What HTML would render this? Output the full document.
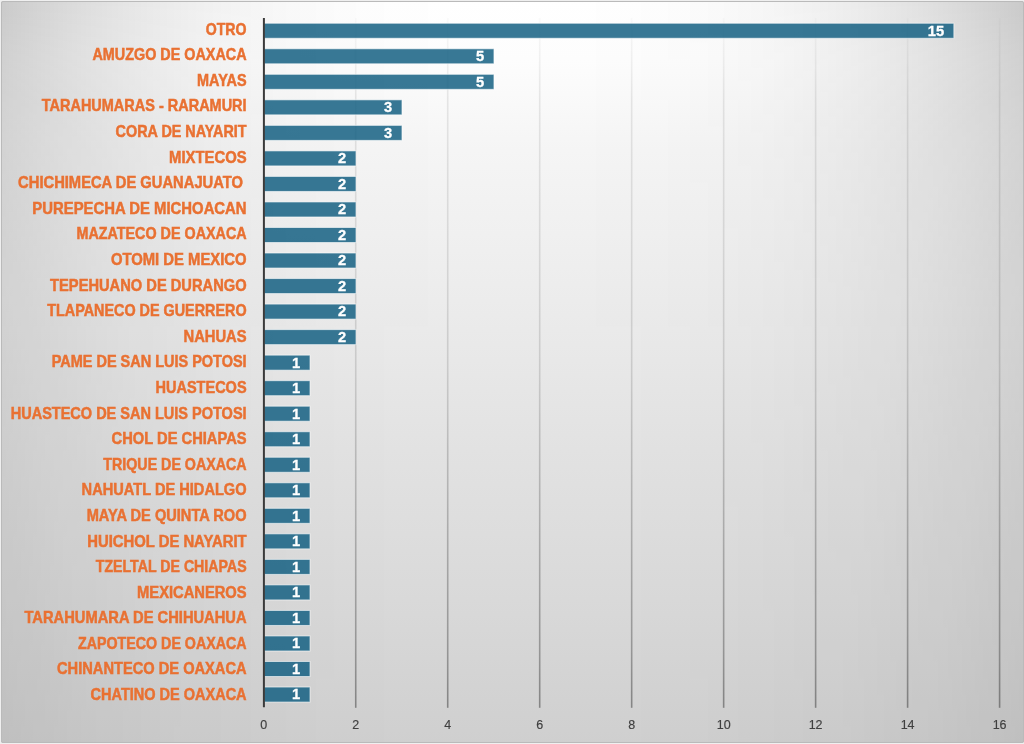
<!DOCTYPE html>
<html><head><meta charset="utf-8"><style>
html,body{margin:0;padding:0;width:1024px;height:744px;overflow:hidden;background:#efefef;}
svg{display:block;will-change:transform}
</style></head><body>
<svg width="1024" height="744" viewBox="0 0 1024 744">
<defs>
<linearGradient id="bv" gradientUnits="userSpaceOnUse" x1="0" y1="0" x2="0" y2="744"><stop offset="0.0000" stop-color="#ffffff"/><stop offset="0.0806" stop-color="#fdfdfd"/><stop offset="0.2016" stop-color="#f5f5f5"/><stop offset="0.4032" stop-color="#ececec"/><stop offset="0.6048" stop-color="#e2e2e2"/><stop offset="0.8065" stop-color="#d9d9d9"/><stop offset="1.0000" stop-color="#cfcfcf"/></linearGradient>
<linearGradient id="bh" gradientUnits="userSpaceOnUse" x1="0" y1="0" x2="1024" y2="0"><stop offset="0.0000" stop-color="#000" stop-opacity="0.2117"/><stop offset="0.0156" stop-color="#000" stop-opacity="0.1950"/><stop offset="0.0312" stop-color="#000" stop-opacity="0.1791"/><stop offset="0.0469" stop-color="#000" stop-opacity="0.1641"/><stop offset="0.0625" stop-color="#000" stop-opacity="0.1499"/><stop offset="0.0781" stop-color="#000" stop-opacity="0.1364"/><stop offset="0.0938" stop-color="#000" stop-opacity="0.1237"/><stop offset="0.1094" stop-color="#000" stop-opacity="0.1118"/><stop offset="0.1250" stop-color="#000" stop-opacity="0.1006"/><stop offset="0.1406" stop-color="#000" stop-opacity="0.0901"/><stop offset="0.1562" stop-color="#000" stop-opacity="0.0803"/><stop offset="0.1719" stop-color="#000" stop-opacity="0.0712"/><stop offset="0.1875" stop-color="#000" stop-opacity="0.0628"/><stop offset="0.2031" stop-color="#000" stop-opacity="0.0550"/><stop offset="0.2188" stop-color="#000" stop-opacity="0.0478"/><stop offset="0.2344" stop-color="#000" stop-opacity="0.0413"/><stop offset="0.2500" stop-color="#000" stop-opacity="0.0353"/><stop offset="0.2656" stop-color="#000" stop-opacity="0.0298"/><stop offset="0.2812" stop-color="#000" stop-opacity="0.0250"/><stop offset="0.2969" stop-color="#000" stop-opacity="0.0206"/><stop offset="0.3125" stop-color="#000" stop-opacity="0.0168"/><stop offset="0.3281" stop-color="#000" stop-opacity="0.0134"/><stop offset="0.3438" stop-color="#000" stop-opacity="0.0105"/><stop offset="0.3594" stop-color="#000" stop-opacity="0.0080"/><stop offset="0.3750" stop-color="#000" stop-opacity="0.0059"/><stop offset="0.3906" stop-color="#000" stop-opacity="0.0042"/><stop offset="0.4062" stop-color="#000" stop-opacity="0.0028"/><stop offset="0.4219" stop-color="#000" stop-opacity="0.0017"/><stop offset="0.4375" stop-color="#000" stop-opacity="0.0010"/><stop offset="0.4531" stop-color="#000" stop-opacity="0.0005"/><stop offset="0.4688" stop-color="#000" stop-opacity="0.0002"/><stop offset="0.4844" stop-color="#000" stop-opacity="0.0000"/><stop offset="0.5000" stop-color="#000" stop-opacity="0.0000"/><stop offset="0.5156" stop-color="#000" stop-opacity="0.0000"/><stop offset="0.5312" stop-color="#000" stop-opacity="0.0002"/><stop offset="0.5469" stop-color="#000" stop-opacity="0.0005"/><stop offset="0.5625" stop-color="#000" stop-opacity="0.0010"/><stop offset="0.5781" stop-color="#000" stop-opacity="0.0017"/><stop offset="0.5938" stop-color="#000" stop-opacity="0.0028"/><stop offset="0.6094" stop-color="#000" stop-opacity="0.0041"/><stop offset="0.6250" stop-color="#000" stop-opacity="0.0058"/><stop offset="0.6406" stop-color="#000" stop-opacity="0.0079"/><stop offset="0.6562" stop-color="#000" stop-opacity="0.0104"/><stop offset="0.6719" stop-color="#000" stop-opacity="0.0133"/><stop offset="0.6875" stop-color="#000" stop-opacity="0.0167"/><stop offset="0.7031" stop-color="#000" stop-opacity="0.0205"/><stop offset="0.7188" stop-color="#000" stop-opacity="0.0248"/><stop offset="0.7344" stop-color="#000" stop-opacity="0.0297"/><stop offset="0.7500" stop-color="#000" stop-opacity="0.0351"/><stop offset="0.7656" stop-color="#000" stop-opacity="0.0411"/><stop offset="0.7812" stop-color="#000" stop-opacity="0.0476"/><stop offset="0.7969" stop-color="#000" stop-opacity="0.0548"/><stop offset="0.8125" stop-color="#000" stop-opacity="0.0626"/><stop offset="0.8281" stop-color="#000" stop-opacity="0.0710"/><stop offset="0.8438" stop-color="#000" stop-opacity="0.0801"/><stop offset="0.8594" stop-color="#000" stop-opacity="0.0898"/><stop offset="0.8750" stop-color="#000" stop-opacity="0.1003"/><stop offset="0.8906" stop-color="#000" stop-opacity="0.1115"/><stop offset="0.9062" stop-color="#000" stop-opacity="0.1234"/><stop offset="0.9219" stop-color="#000" stop-opacity="0.1361"/><stop offset="0.9375" stop-color="#000" stop-opacity="0.1495"/><stop offset="0.9531" stop-color="#000" stop-opacity="0.1637"/><stop offset="0.9688" stop-color="#000" stop-opacity="0.1787"/><stop offset="0.9844" stop-color="#000" stop-opacity="0.1946"/><stop offset="1.0000" stop-color="#000" stop-opacity="0.2112"/></linearGradient>
<linearGradient id="mv" gradientUnits="userSpaceOnUse" x1="0" y1="0" x2="0" y2="744"><stop offset="0.0000" stop-color="#fff" stop-opacity="1.0000"/><stop offset="0.0323" stop-color="#fff" stop-opacity="0.9307"/><stop offset="0.0645" stop-color="#fff" stop-opacity="0.8609"/><stop offset="0.0968" stop-color="#fff" stop-opacity="0.8037"/><stop offset="0.1290" stop-color="#fff" stop-opacity="0.7589"/><stop offset="0.1613" stop-color="#fff" stop-opacity="0.7133"/><stop offset="0.1935" stop-color="#fff" stop-opacity="0.6669"/><stop offset="0.2258" stop-color="#fff" stop-opacity="0.6389"/><stop offset="0.2581" stop-color="#fff" stop-opacity="0.6169"/><stop offset="0.2903" stop-color="#fff" stop-opacity="0.5946"/><stop offset="0.3226" stop-color="#fff" stop-opacity="0.5720"/><stop offset="0.3548" stop-color="#fff" stop-opacity="0.5492"/><stop offset="0.3871" stop-color="#fff" stop-opacity="0.5261"/><stop offset="0.4194" stop-color="#fff" stop-opacity="0.5082"/><stop offset="0.4516" stop-color="#fff" stop-opacity="0.4954"/><stop offset="0.4839" stop-color="#fff" stop-opacity="0.4824"/><stop offset="0.5161" stop-color="#fff" stop-opacity="0.4693"/><stop offset="0.5484" stop-color="#fff" stop-opacity="0.4560"/><stop offset="0.5806" stop-color="#fff" stop-opacity="0.4425"/><stop offset="0.6129" stop-color="#fff" stop-opacity="0.4308"/><stop offset="0.6452" stop-color="#fff" stop-opacity="0.4246"/><stop offset="0.6774" stop-color="#fff" stop-opacity="0.4184"/><stop offset="0.7097" stop-color="#fff" stop-opacity="0.4121"/><stop offset="0.7419" stop-color="#fff" stop-opacity="0.4058"/><stop offset="0.7742" stop-color="#fff" stop-opacity="0.3993"/><stop offset="0.8065" stop-color="#fff" stop-opacity="0.3928"/><stop offset="0.8387" stop-color="#fff" stop-opacity="0.3873"/><stop offset="0.8710" stop-color="#fff" stop-opacity="0.3817"/><stop offset="0.9032" stop-color="#fff" stop-opacity="0.3761"/><stop offset="0.9355" stop-color="#fff" stop-opacity="0.3703"/><stop offset="0.9677" stop-color="#fff" stop-opacity="0.3645"/><stop offset="1.0000" stop-color="#fff" stop-opacity="0.3586"/></linearGradient>
<mask id="mk" maskUnits="userSpaceOnUse" x="0" y="0" width="1024" height="744"><rect width="1024" height="744" fill="url(#mv)"/></mask>
<linearGradient id="gl" gradientUnits="userSpaceOnUse" x1="0" y1="18" x2="0" y2="708"><stop offset="0.0000" stop-color="#000" stop-opacity="0.020"/><stop offset="0.1188" stop-color="#000" stop-opacity="0.085"/><stop offset="0.3362" stop-color="#000" stop-opacity="0.105"/><stop offset="0.5101" stop-color="#000" stop-opacity="0.130"/><stop offset="0.6986" stop-color="#000" stop-opacity="0.210"/><stop offset="0.9159" stop-color="#000" stop-opacity="0.300"/><stop offset="1.0000" stop-color="#000" stop-opacity="0.370"/></linearGradient>
</defs>
<rect x="0" y="0" width="1024" height="744" fill="#efefef"/>
<rect x="1" y="1" width="1023" height="742" rx="2" fill="url(#bv)"/>
<rect x="1" y="1" width="1023" height="742" rx="2" fill="url(#bh)" mask="url(#mk)"/>
<rect x="1.5" y="1.5" width="1022" height="741" rx="1.5" fill="none" stroke="#bababa" stroke-width="1"/>

<rect x="354.93" y="18.0" width="1.6" height="689.8" fill="url(#gl)"/>
<rect x="446.91" y="18.0" width="1.6" height="689.8" fill="url(#gl)"/>
<rect x="538.89" y="18.0" width="1.6" height="689.8" fill="url(#gl)"/>
<rect x="630.87" y="18.0" width="1.6" height="689.8" fill="url(#gl)"/>
<rect x="722.85" y="18.0" width="1.6" height="689.8" fill="url(#gl)"/>
<rect x="814.83" y="18.0" width="1.6" height="689.8" fill="url(#gl)"/>
<rect x="906.81" y="18.0" width="1.6" height="689.8" fill="url(#gl)"/>
<rect x="998.79" y="18.0" width="1.6" height="689.8" fill="url(#gl)"/>
<rect x="263.9" y="23.26" width="689.95" height="15.0" fill="#156082" fill-opacity="0.85" stroke="#fff" stroke-opacity="0.6" stroke-width="1"/>
<rect x="263.9" y="48.79" width="230.05" height="15.0" fill="#156082" fill-opacity="0.85" stroke="#fff" stroke-opacity="0.6" stroke-width="1"/>
<rect x="263.9" y="74.32" width="230.05" height="15.0" fill="#156082" fill-opacity="0.85" stroke="#fff" stroke-opacity="0.6" stroke-width="1"/>
<rect x="263.9" y="99.85" width="138.07" height="15.0" fill="#156082" fill-opacity="0.85" stroke="#fff" stroke-opacity="0.6" stroke-width="1"/>
<rect x="263.9" y="125.38" width="138.07" height="15.0" fill="#156082" fill-opacity="0.85" stroke="#fff" stroke-opacity="0.6" stroke-width="1"/>
<rect x="263.9" y="150.91" width="92.08" height="15.0" fill="#156082" fill-opacity="0.85" stroke="#fff" stroke-opacity="0.6" stroke-width="1"/>
<rect x="263.9" y="176.44" width="92.08" height="15.0" fill="#156082" fill-opacity="0.85" stroke="#fff" stroke-opacity="0.6" stroke-width="1"/>
<rect x="263.9" y="201.97" width="92.08" height="15.0" fill="#156082" fill-opacity="0.85" stroke="#fff" stroke-opacity="0.6" stroke-width="1"/>
<rect x="263.9" y="227.50" width="92.08" height="15.0" fill="#156082" fill-opacity="0.85" stroke="#fff" stroke-opacity="0.6" stroke-width="1"/>
<rect x="263.9" y="253.03" width="92.08" height="15.0" fill="#156082" fill-opacity="0.85" stroke="#fff" stroke-opacity="0.6" stroke-width="1"/>
<rect x="263.9" y="278.56" width="92.08" height="15.0" fill="#156082" fill-opacity="0.85" stroke="#fff" stroke-opacity="0.6" stroke-width="1"/>
<rect x="263.9" y="304.09" width="92.08" height="15.0" fill="#156082" fill-opacity="0.85" stroke="#fff" stroke-opacity="0.6" stroke-width="1"/>
<rect x="263.9" y="329.62" width="92.08" height="15.0" fill="#156082" fill-opacity="0.85" stroke="#fff" stroke-opacity="0.6" stroke-width="1"/>
<rect x="263.9" y="355.15" width="46.09" height="15.0" fill="#156082" fill-opacity="0.85" stroke="#fff" stroke-opacity="0.6" stroke-width="1"/>
<rect x="263.9" y="380.68" width="46.09" height="15.0" fill="#156082" fill-opacity="0.85" stroke="#fff" stroke-opacity="0.6" stroke-width="1"/>
<rect x="263.9" y="406.21" width="46.09" height="15.0" fill="#156082" fill-opacity="0.85" stroke="#fff" stroke-opacity="0.6" stroke-width="1"/>
<rect x="263.9" y="431.74" width="46.09" height="15.0" fill="#156082" fill-opacity="0.85" stroke="#fff" stroke-opacity="0.6" stroke-width="1"/>
<rect x="263.9" y="457.27" width="46.09" height="15.0" fill="#156082" fill-opacity="0.85" stroke="#fff" stroke-opacity="0.6" stroke-width="1"/>
<rect x="263.9" y="482.80" width="46.09" height="15.0" fill="#156082" fill-opacity="0.85" stroke="#fff" stroke-opacity="0.6" stroke-width="1"/>
<rect x="263.9" y="508.33" width="46.09" height="15.0" fill="#156082" fill-opacity="0.85" stroke="#fff" stroke-opacity="0.6" stroke-width="1"/>
<rect x="263.9" y="533.86" width="46.09" height="15.0" fill="#156082" fill-opacity="0.85" stroke="#fff" stroke-opacity="0.6" stroke-width="1"/>
<rect x="263.9" y="559.39" width="46.09" height="15.0" fill="#156082" fill-opacity="0.85" stroke="#fff" stroke-opacity="0.6" stroke-width="1"/>
<rect x="263.9" y="584.92" width="46.09" height="15.0" fill="#156082" fill-opacity="0.85" stroke="#fff" stroke-opacity="0.6" stroke-width="1"/>
<rect x="263.9" y="610.45" width="46.09" height="15.0" fill="#156082" fill-opacity="0.85" stroke="#fff" stroke-opacity="0.6" stroke-width="1"/>
<rect x="263.9" y="635.98" width="46.09" height="15.0" fill="#156082" fill-opacity="0.85" stroke="#fff" stroke-opacity="0.6" stroke-width="1"/>
<rect x="263.9" y="661.51" width="46.09" height="15.0" fill="#156082" fill-opacity="0.85" stroke="#fff" stroke-opacity="0.6" stroke-width="1"/>
<rect x="263.9" y="687.04" width="46.09" height="15.0" fill="#156082" fill-opacity="0.85" stroke="#fff" stroke-opacity="0.6" stroke-width="1"/>
<line x1="263.9" y1="18.0" x2="263.9" y2="707.3" stroke="#3a3a3a" stroke-width="2"/>
<g font-family="Liberation Sans, sans-serif" font-weight="bold" font-size="16" fill="#E97132" text-anchor="end" stroke="#E97132" stroke-width="0.5">
<text transform="translate(246.60,34.70) scale(0.8848,1)">OTRO</text>
<text transform="translate(246.60,60.29) scale(0.8988,1)">AMUZGO DE OAXACA</text>
<text transform="translate(246.60,85.88) scale(0.9045,1)">MAYAS</text>
<text transform="translate(246.60,111.47) scale(0.9062,1)">TARAHUMARAS - RARAMURI</text>
<text transform="translate(246.60,137.06) scale(0.8989,1)">CORA DE NAYARIT</text>
<text transform="translate(246.60,162.65) scale(0.9289,1)">MIXTECOS</text>
<text transform="translate(243.00,188.24) scale(0.9218,1)">CHICHIMECA DE GUANAJUATO</text>
<text transform="translate(246.60,213.83) scale(0.9304,1)">PUREPECHA DE MICHOACAN</text>
<text transform="translate(246.60,239.42) scale(0.8961,1)">MAZATECO DE OAXACA</text>
<text transform="translate(246.60,265.01) scale(0.9278,1)">OTOMI DE MEXICO</text>
<text transform="translate(246.60,290.60) scale(0.9182,1)">TEPEHUANO DE DURANGO</text>
<text transform="translate(246.60,316.19) scale(0.8989,1)">TLAPANECO DE GUERRERO</text>
<text transform="translate(246.60,341.78) scale(0.9222,1)">NAHUAS</text>
<text transform="translate(246.60,367.37) scale(0.9056,1)">PAME DE SAN LUIS POTOSI</text>
<text transform="translate(246.60,392.96) scale(0.9090,1)">HUASTECOS</text>
<text transform="translate(246.60,418.55) scale(0.9071,1)">HUASTECO DE SAN LUIS POTOSI</text>
<text transform="translate(246.60,444.14) scale(0.9187,1)">CHOL DE CHIAPAS</text>
<text transform="translate(246.60,469.73) scale(0.8913,1)">TRIQUE DE OAXACA</text>
<text transform="translate(246.60,495.32) scale(0.9138,1)">NAHUATL DE HIDALGO</text>
<text transform="translate(246.60,520.91) scale(0.9138,1)">MAYA DE QUINTA ROO</text>
<text transform="translate(246.60,546.50) scale(0.9277,1)">HUICHOL DE NAYARIT</text>
<text transform="translate(246.60,572.09) scale(0.8855,1)">TZELTAL DE CHIAPAS</text>
<text transform="translate(246.60,597.68) scale(0.9202,1)">MEXICANEROS</text>
<text transform="translate(246.60,623.27) scale(0.9193,1)">TARAHUMARA DE CHIHUAHUA</text>
<text transform="translate(246.60,648.86) scale(0.8910,1)">ZAPOTECO DE OAXACA</text>
<text transform="translate(246.60,674.45) scale(0.9164,1)">CHINANTECO DE OAXACA</text>
<text transform="translate(246.60,700.04) scale(0.9068,1)">CHATINO DE OAXACA</text>
</g>
<g font-family="Liberation Sans, sans-serif" font-weight="bold" font-size="15.5" fill="#fff" text-anchor="end" stroke="#fff" stroke-width="0.3">
<text transform="translate(944.10,35.61) scale(0.95,1)">15</text>
<text transform="translate(484.20,61.14) scale(0.95,1)">5</text>
<text transform="translate(484.20,86.67) scale(0.95,1)">5</text>
<text transform="translate(392.22,112.20) scale(0.95,1)">3</text>
<text transform="translate(392.22,137.73) scale(0.95,1)">3</text>
<text transform="translate(346.23,163.26) scale(0.95,1)">2</text>
<text transform="translate(346.23,188.79) scale(0.95,1)">2</text>
<text transform="translate(346.23,214.32) scale(0.95,1)">2</text>
<text transform="translate(346.23,239.85) scale(0.95,1)">2</text>
<text transform="translate(346.23,265.38) scale(0.95,1)">2</text>
<text transform="translate(346.23,290.91) scale(0.95,1)">2</text>
<text transform="translate(346.23,316.44) scale(0.95,1)">2</text>
<text transform="translate(346.23,341.97) scale(0.95,1)">2</text>
<text transform="translate(300.24,367.50) scale(0.95,1)">1</text>
<text transform="translate(300.24,393.03) scale(0.95,1)">1</text>
<text transform="translate(300.24,418.56) scale(0.95,1)">1</text>
<text transform="translate(300.24,444.09) scale(0.95,1)">1</text>
<text transform="translate(300.24,469.62) scale(0.95,1)">1</text>
<text transform="translate(300.24,495.15) scale(0.95,1)">1</text>
<text transform="translate(300.24,520.68) scale(0.95,1)">1</text>
<text transform="translate(300.24,546.21) scale(0.95,1)">1</text>
<text transform="translate(300.24,571.74) scale(0.95,1)">1</text>
<text transform="translate(300.24,597.27) scale(0.95,1)">1</text>
<text transform="translate(300.24,622.80) scale(0.95,1)">1</text>
<text transform="translate(300.24,648.33) scale(0.95,1)">1</text>
<text transform="translate(300.24,673.86) scale(0.95,1)">1</text>
<text transform="translate(300.24,699.39) scale(0.95,1)">1</text>
</g>
<g font-family="Liberation Sans, sans-serif" font-size="12.5" fill="#404040" text-anchor="middle" stroke="#404040" stroke-width="0.15">
<text x="263.75" y="729">0</text>
<text x="355.73" y="729">2</text>
<text x="447.71" y="729">4</text>
<text x="539.69" y="729">6</text>
<text x="631.67" y="729">8</text>
<text x="723.65" y="729">10</text>
<text x="815.63" y="729">12</text>
<text x="907.61" y="729">14</text>
<text x="999.59" y="729">16</text>
</g>
</svg>
</body></html>
